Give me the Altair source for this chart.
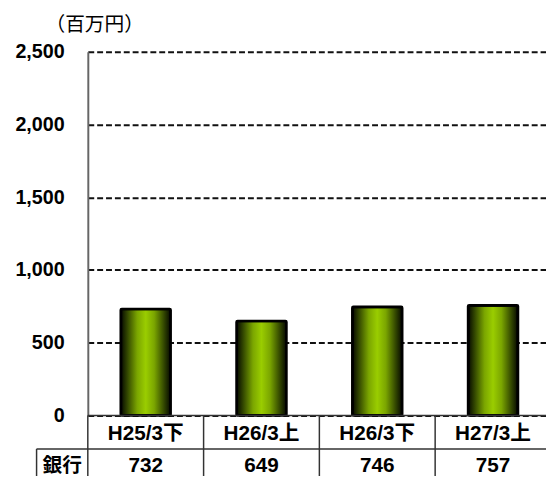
import altair as alt
import pandas as pd

categories = ["H25/3下", "H26/3上", "H26/3下", "H27/3上"]
values = [732, 649, 746, 757]
row_label = "銀行"
y_ticks = [0, 500, 1000, 1500, 2000, 2500]
unit_label = "（百万円）"

df = pd.DataFrame({"cat": categories, "val": values})
df["lbl"] = [f"{v:,}" for v in values]
one = pd.DataFrame({"t": [row_label], "u": [unit_label]})
zero = pd.DataFrame({"v": [0]})

FONT = "Liberation Sans, Arial, Noto Sans CJK JP"
LINE = "#333333"

xscale = alt.Scale(domain=categories, range=[0, 470], paddingInner=0, paddingOuter=0)
yscale = alt.Scale(domain=[0, 2500], nice=False, zero=True)

grad = {
    "gradient": "linear", "x1": 0, "x2": 1, "y1": 0, "y2": 0,
    "stops": [
        {"offset": 0.0, "color": "#050800"},
        {"offset": 0.12, "color": "#2e4100"},
        {"offset": 0.33, "color": "#7ba600"},
        {"offset": 0.5, "color": "#9acd00"},
        {"offset": 0.67, "color": "#7ba600"},
        {"offset": 0.88, "color": "#2e4100"},
        {"offset": 1.0, "color": "#050800"},
    ],
}

xenc = alt.X("cat:N", scale=xscale, sort=categories, axis=None)

bars = alt.Chart(df).mark_bar(
    fill=grad, stroke="black", strokeWidth=2.7, width={"band": 0.43}, cornerRadius=1
).encode(
    x=xenc,
    y=alt.Y("val:Q", scale=yscale, axis=alt.Axis(
        values=y_ticks, format=",.0f", title=None, ticks=False,
        labelFont=FONT, labelFontSize=20, labelFontWeight="bold", labelColor="black",
        labelPadding=24, grid=True, gridDash=[6, 3], gridColor="#111111", gridWidth=2,
        domainColor="#666666", domainWidth=2,
    )),
)

vlines = alt.Chart(df).mark_rule(stroke=LINE, strokeWidth=1.5).encode(
    x=alt.X("cat:N", scale=xscale, sort=categories, axis=None, bandPosition=0),
    y=alt.value(369), y2=alt.value(440),
)

hline0 = alt.Chart(zero).mark_rule(stroke=LINE, strokeWidth=1.5).encode(
    y=alt.Y("v:Q", scale=yscale), x=alt.value(0), x2=alt.value(470)
)
hline1 = alt.Chart(one).mark_rule(stroke=LINE, strokeWidth=1.5).encode(
    y=alt.value(403), x=alt.value(-52), x2=alt.value(470)
)
leftv = alt.Chart(one).mark_rule(stroke=LINE, strokeWidth=1.5).encode(
    x=alt.value(-52), y=alt.value(403), y2=alt.value(440)
)

cat_text = alt.Chart(df).mark_text(font=FONT, fontSize=21, fontWeight="bold", color="black").encode(
    x=alt.X("cat:N", scale=xscale, sort=categories, axis=None, bandPosition=0.5),
    y=alt.value(388), text="cat:N",
)
val_text = alt.Chart(df).mark_text(font=FONT, fontSize=21, fontWeight="bold", color="black").encode(
    x=alt.X("cat:N", scale=xscale, sort=categories, axis=None, bandPosition=0.5),
    y=alt.value(420), text="lbl:N",
)
row_text = alt.Chart(one).mark_text(font=FONT, fontSize=20, fontWeight="bold", color="black").encode(
    x=alt.value(-26), y=alt.value(420), text="t:N"
)
unit_text = alt.Chart(one).mark_text(font=FONT, fontSize=20, color="black").encode(
    x=alt.value(7), y=alt.value(-27), text="u:N"
)

chart = alt.layer(
    bars, hline0, hline1, leftv, vlines, cat_text, val_text, row_text, unit_text
).properties(
    width=465, height=369,
    padding={"left": 81, "top": 41, "right": 0, "bottom": 58},
    autosize=alt.AutoSizeParams(type="none"),
    background="white",
).configure_view(stroke=None)

chart.save("out.html", embed_options={"renderer": "svg", "actions": False})
